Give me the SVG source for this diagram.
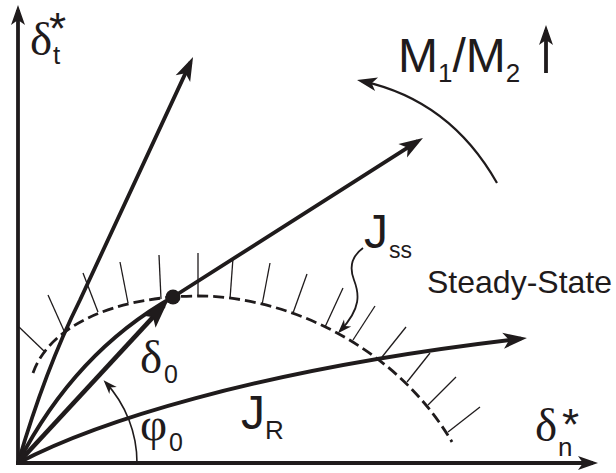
<svg xmlns="http://www.w3.org/2000/svg" width="616" height="473" viewBox="0 0 616 473">
<style>
.ln{fill:none;stroke:#1f1b1c;stroke-linecap:butt;stroke-linejoin:round}
.thick{stroke-width:3.8}
.thin{stroke-width:1.3}
.ah{fill:#1f1b1c}
.gr{font-family:"Liberation Serif","Times New Roman",serif;fill:#1f1b1c}
.la{font-family:"Liberation Sans",Arial,sans-serif;fill:#1f1b1c}
</style>
<defs>
<marker id="big" viewBox="-26 -10 28 20" markerWidth="28" markerHeight="20" refX="-6" refY="0" orient="auto" markerUnits="userSpaceOnUse"><path class="ah" d="M0,0 L-24,-8 L-18,0 L-24,8 Z"/></marker>
<marker id="dz" viewBox="-30 -11 32 22" markerWidth="32" markerHeight="22" refX="-6" refY="0" orient="auto" markerUnits="userSpaceOnUse"><path class="ah" d="M0,0 L-28,-9 L-22,0 L-28,9 Z"/></marker>
<marker id="axis" viewBox="-22 -9 24 18" markerWidth="24" markerHeight="18" refX="-5" refY="0" orient="auto" markerUnits="userSpaceOnUse"><path class="ah" d="M0,0 L-20,-7 L-15,0 L-20,7 Z"/></marker>
<marker id="sm" viewBox="-16 -7 18 14" markerWidth="18" markerHeight="14" refX="-3" refY="0" orient="auto" markerUnits="userSpaceOnUse"><path class="ah" d="M0,0 L-14,-5 L-10,0 L-14,5 Z"/></marker>
</defs>
<g id="axes">
<path class="ln thick" d="M18,465 L18,10" marker-end="url(#axis)"/>
<path class="ln thick" d="M16,463 L593,463" marker-end="url(#axis)"/>
</g>
<g id="steady-state-curve">
<path class="ln" stroke-width="2.8" stroke-dasharray="11 5" d="M33,373 C 50,325 115,297 195,296 C 285,295 395,345 452,442"/>
<g class="ln thin">
<path d="M45,352 L19,327"/>
<path d="M65,333 L48,295"/>
<path d="M98,312 L83,273"/>
<path d="M128,303 L120,262"/>
<path d="M161,299 L159,255"/>
<path d="M198,296 L198,253"/>
<path d="M230,299 L233,258"/>
<path d="M262,305 L270,263"/>
<path d="M293,313 L307,274"/>
<path d="M325,327 L343,288"/>
<path d="M353,340 L375,306"/>
<path d="M382,357 L406,327"/>
<path d="M407,382 L430,353"/>
<path d="M428,405 L456,377"/>
<path d="M448,432 L480,407"/>
</g>
</g>
<g id="connectors">
<path class="ln thick" d="M18,463 C 32,415 50,360 80,300 L190.5,62.4" marker-end="url(#big)"/>
<path class="ln thick" d="M18,463 Q 75,352 173,297 L417.9,141.2" marker-end="url(#big)"/>
<path class="ln" stroke-width="4.6" d="M18,463 L163.9,305.4" marker-end="url(#dz)"/>
<path class="ln thick" d="M18,463 C 90,425 250,370 521,338.7" marker-end="url(#big)"/>
<path class="ln" stroke-width="1.6" d="M137,463 A119,119 0 0 0 105.6,382.4" marker-end="url(#sm)"/>
<path class="ln" stroke-width="1.8" d="M363,248 C 352,256 349,267 354,280 C 359,293 362,308 340,331" marker-end="url(#sm)"/>
<path class="ln" stroke-width="2.2" d="M497,183 Q 450,100 361.9,81.1" marker-end="url(#axis)"/>
<path class="ln thick" d="M546,73 L546,30" marker-end="url(#axis)"/>
</g>
<g id="point-delta0">
<circle cx="173" cy="297" r="7.5" fill="#1f1b1c"/>
</g>
<g id="labels">
<text class="gr" x="30" y="55" font-size="47">δ<tspan class="la" x="53" y="64" font-size="26">t</tspan><tspan class="la" x="49" y="44" font-size="44">*</tspan></text>
<text class="gr" x="140" y="373" font-size="47">δ<tspan class="la" x="164" y="383" font-size="25">0</tspan></text>
<text class="gr" x="140" y="440" font-size="47">φ<tspan class="la" x="169" y="451" font-size="25">0</tspan></text>
<text class="gr" x="535" y="441" font-size="47">δ<tspan class="la" x="558" y="456" font-size="26">n</tspan><tspan class="la" x="562" y="440" font-size="44">*</tspan></text>
<text class="la" x="241" y="429" font-size="48">J<tspan x="265" y="439" font-size="26">R</tspan></text>
<text class="la" x="364" y="248" font-size="48">J<tspan x="389" y="258" font-size="23">ss</tspan></text>
<text class="la" x="427" y="293" font-size="32">Steady-State</text>
<text class="la" x="398" y="72" font-size="48">M<tspan font-size="26" dy="10">1</tspan><tspan dy="-10">/M</tspan><tspan font-size="26" dy="10">2</tspan></text>
</g>
</svg>
